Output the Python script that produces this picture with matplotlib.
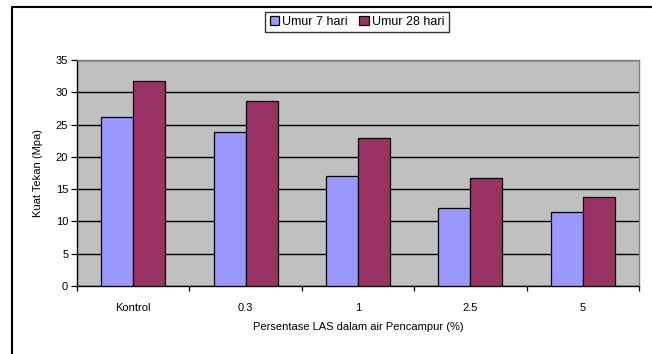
"""Compressive strength of concrete by LAS percentage in mixing water (7 vs 28 day)."""

import matplotlib

matplotlib.use("Agg")
import matplotlib.pyplot as plt
import numpy as np
from matplotlib.lines import Line2D

plt.rcParams["font.family"] = ["Liberation Sans", "DejaVu Sans"]

categories = ["Kontrol", "0.3", "1", "2.5", "5"]
umur_7 = [26.1, 23.8, 17.0, 12.1, 11.5]
umur_28 = [31.8, 28.6, 22.9, 16.8, 13.8]
series_labels = ["Umur 7 hari", "Umur 28 hari"]
y_ticks = [0, 5, 10, 15, 20, 25, 30, 35]

W, H = 652, 354
fig = plt.figure(figsize=(W / 100, H / 100), dpi=100)
fig.patch.set_facecolor("white")

# plot area in pixel coordinates
left, top, right, bottom = 77, 60, 639, 286
ax = fig.add_axes([left / W, 1 - bottom / H, (right - left) / W, (bottom - top) / H])
ax.set_facecolor("#c0c0c0")

x = np.arange(len(categories))
bw = 0.285
ax.bar(x - bw / 2, umur_7, bw, color="#9999ff", edgecolor="black", linewidth=0.9,
       label=series_labels[0], zorder=3)
ax.bar(x + bw / 2, umur_28, bw, color="#993366", edgecolor="black", linewidth=0.9,
       label=series_labels[1], zorder=3)

ax.set_xlim(-0.5, len(categories) - 0.5)
ax.set_ylim(0, 35)
ax.set_yticks(y_ticks)
ax.set_yticklabels([str(v) for v in y_ticks], fontsize=8)
ax.yaxis.grid(True, color="black", linewidth=1.0, zorder=1)
ax.set_axisbelow(True)

# category labels at centres, tick marks on the boundaries between groups
ax.set_xticks(x)
ax.set_xticklabels(categories, fontsize=8)
ax.set_xticks(np.arange(-0.5, len(categories)), minor=True)
ax.tick_params(axis="x", which="major", length=0, pad=12.5)
ax.tick_params(axis="x", which="minor", length=3.5, width=0.9, color="black")
ax.tick_params(axis="y", length=4.3, width=0.9, pad=2)

for side in ("left", "bottom"):
    ax.spines[side].set_color("black")
    ax.spines[side].set_linewidth(1.0)
for side in ("top", "right"):
    ax.spines[side].set_color("#808080")
    ax.spines[side].set_linewidth(1.0)

ax.set_ylabel("Kuat Tekan (Mpa)", fontsize=8, labelpad=9)
ax.set_xlabel("Persentase LAS dalam air Pencampur (%)", fontsize=8, labelpad=6)

leg = fig.legend(loc="center", bbox_to_anchor=(357 / W, 1 - 22 / H), ncol=2,
                 fontsize=9, frameon=True, fancybox=False, edgecolor="black",
                 handlelength=0.75, handleheight=0.75, handletextpad=0.25,
                 columnspacing=0.9, borderpad=0.35, borderaxespad=0)
leg.get_frame().set_linewidth(1.0)

# chart border: left and top edges only
fig.add_artist(Line2D([12 / W, 12 / W, 1.0], [0.0, 1 - 7 / H, 1 - 7 / H],
                      transform=fig.transFigure, color="black", linewidth=1.5))

fig.savefig("out.png", dpi=100)
